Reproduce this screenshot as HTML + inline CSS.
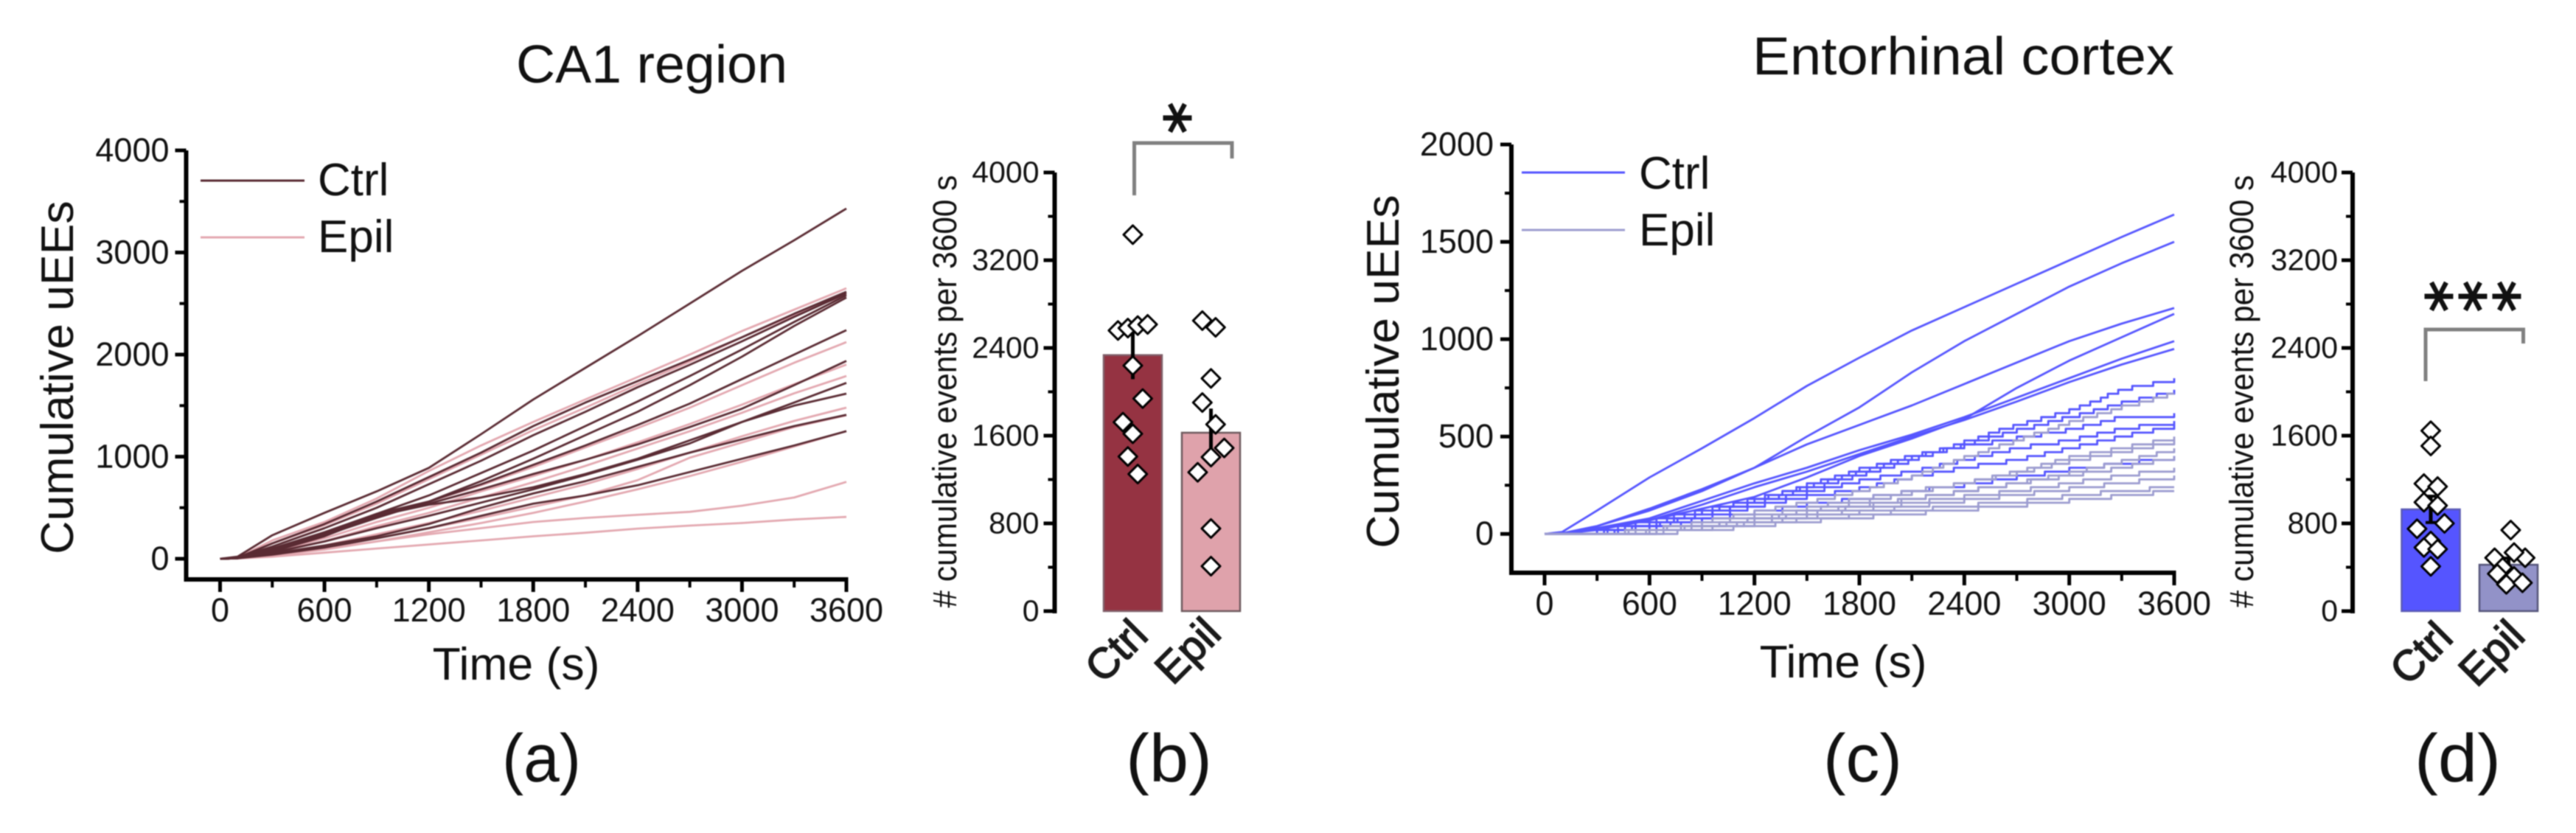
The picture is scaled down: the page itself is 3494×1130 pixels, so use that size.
<!DOCTYPE html>
<html lang="en">
<head>
<meta charset="utf-8">
<title>Cumulative uEEs</title>
<style>
html,body{margin:0;padding:0;background:#fff;}
body{width:3494px;height:1130px;overflow:hidden;}
svg{display:block;filter:blur(0.7px);}
text{font-family:"Liberation Sans",sans-serif;fill:#111;}
</style>
</head>
<body>
<svg id="fig" xmlns="http://www.w3.org/2000/svg" width="3494" height="1130" viewBox="0 0 3494 1130">
  <rect x="0" y="0" width="3494" height="1130" fill="#ffffff"/>
  <text x="700" y="112" font-size="72" textLength="368" lengthAdjust="spacingAndGlyphs">CA1 region</text>
  <text x="2377" y="101" font-size="72" textLength="572" lengthAdjust="spacingAndGlyphs">Entorhinal cortex</text>

  <text transform="translate(99,512) rotate(-90)" text-anchor="middle" font-size="62.5">Cumulative uEEs</text>
  <text x="700" y="922" text-anchor="middle" font-size="62.5">Time (s)</text>
  <text transform="translate(1897,504) rotate(-90)" text-anchor="middle" font-size="62.5">Cumulative uEEs</text>
  <text x="2500" y="919" text-anchor="middle" font-size="62.5">Time (s)</text>

  <text transform="translate(1297,531) rotate(-90)" text-anchor="middle" font-size="45" textLength="587" lengthAdjust="spacingAndGlyphs"># cumulative events per 3600 s</text>
  <text transform="translate(3056,531) rotate(-90)" text-anchor="middle" font-size="45" textLength="587" lengthAdjust="spacingAndGlyphs"># cumulative events per 3600 s</text>

  <g>
    <line x1="272" y1="245" x2="413" y2="245" stroke="#5a2b33" stroke-width="3"/>
    <text x="431" y="265" font-size="62">Ctrl</text>
    <line x1="272" y1="322" x2="413" y2="322" stroke="#e3a8b0" stroke-width="3"/>
    <text x="431" y="342" font-size="62">Epil</text>
  </g>
  <g>
    <line x1="2064" y1="234" x2="2204" y2="234" stroke="#5555ff" stroke-width="3"/>
    <text x="2223" y="256" font-size="62">Ctrl</text>
    <line x1="2064" y1="312" x2="2204" y2="312" stroke="#9c9cd0" stroke-width="3"/>
    <text x="2223" y="333" font-size="62">Epil</text>
  </g>

  <text x="681" y="1060" font-size="92" textLength="107" lengthAdjust="spacingAndGlyphs">(a)</text>
  <text x="1527" y="1060" font-size="92" textLength="117" lengthAdjust="spacingAndGlyphs">(b)</text>
  <text x="2473" y="1060" font-size="92" textLength="107" lengthAdjust="spacingAndGlyphs">(c)</text>
  <text x="3275" y="1060" font-size="92" textLength="117" lengthAdjust="spacingAndGlyphs">(d)</text>

  <path d="M1538.5 265V194H1671V215" fill="none" stroke="#808080" stroke-width="5"/>
  <text transform="translate(1600,160) rotate(90)" text-anchor="middle" font-size="84" font-weight="bold" y="46" style="font-family:'DejaVu Sans',sans-serif">*</text>
  <path d="M3290 517V447H3422.5V466" fill="none" stroke="#808080" stroke-width="5"/>
  <text transform="translate(3311,402) rotate(90)" text-anchor="middle" font-size="84" font-weight="bold" y="46" style="font-family:'DejaVu Sans',sans-serif">*</text>
  <text transform="translate(3357,402) rotate(90)" text-anchor="middle" font-size="84" font-weight="bold" y="46" style="font-family:'DejaVu Sans',sans-serif">*</text>
  <text transform="translate(3403,402) rotate(90)" text-anchor="middle" font-size="84" font-weight="bold" y="46" style="font-family:'DejaVu Sans',sans-serif">*</text>

  <g id="marks"></g>
</svg>
<script>
// ---------- shared time samples (s) ----------
var traceTimes = [0,100,300,600,900,1200,1500,1800,2100,2400,2700,3000,3300,3600];
var timeTicks = [0,600,1200,1800,2400,3000,3600];
var timeMinorTicks = [300,900,1500,2100,2700,3300];

// ---------- panel (a) CA1 traces ----------
var caYTicks = [0,1000,2000,3000,4000];
var caYMinorTicks = [500,1500,2500,3500];
var caCtrlTraces = [
  [0,20,230,450,660,890,1220,1560,1870,2180,2500,2820,3120,3430],
  [0,10,150,340,560,800,1040,1300,1530,1740,1950,2170,2400,2615],
  [0,10,120,300,500,730,960,1210,1440,1680,1900,2130,2370,2600],
  [0,5,100,260,440,620,840,1060,1300,1540,1790,2050,2320,2581],
  [0,5,80,230,400,560,760,980,1210,1440,1700,1980,2280,2559],
  [0,5,90,250,440,560,730,920,1110,1310,1520,1760,2000,2239],
  [0,5,70,220,420,540,680,830,970,1120,1290,1470,1700,1938],
  [0,5,60,170,300,420,550,680,820,970,1130,1340,1530,1723],
  [0,5,80,230,420,530,600,700,830,980,1160,1340,1500,1617],
  [0,5,50,130,220,340,500,640,760,900,1040,1170,1300,1410],
  [0,5,40,110,200,300,420,540,620,720,850,980,1110,1250]
];
var caEpilTraces = [
  [0,10,180,360,590,860,1110,1340,1560,1780,2000,2230,2440,2649],
  [0,10,150,330,540,780,1020,1260,1480,1710,1930,2170,2390,2588],
  [0,5,90,240,400,560,720,900,1090,1280,1480,1700,1920,2122],
  [0,5,70,200,360,500,660,810,970,1140,1320,1510,1710,1902],
  [0,5,60,170,320,450,600,750,910,1080,1250,1430,1620,1790],
  [0,5,50,130,240,350,470,600,730,880,1040,1200,1350,1480],
  [0,5,40,110,200,300,400,510,620,770,990,1140,1290,1405],
  [0,5,30,90,170,260,350,450,560,680,810,950,1100,1250],
  [0,5,30,100,170,240,300,360,400,430,460,520,600,753],
  [0,3,20,60,100,140,180,220,255,295,325,350,385,410]
];

// ---------- panel (c) entorhinal traces ----------
var ecYTicks = [0,500,1000,1500,2000];
var ecYMinorTicks = [250,750,1250,1750];
var ecCtrlTraces = [
  [0,10,120,290,440,595,760,905,1045,1165,1285,1405,1525,1640],
  [0,3,40,120,220,340,500,650,830,990,1130,1270,1390,1500],
  [0,3,40,130,230,340,460,560,660,770,880,990,1080,1160],
  [0,2,20,70,130,190,290,400,490,590,750,890,1010,1130],
  [0,3,30,80,170,260,340,430,510,600,700,800,900,990],
  [0,2,25,70,150,240,320,410,500,585,680,780,870,950],
  [0,2,20,60,120,190,250,330,400,480,570,640,750,800],
  [0,2,15,55,110,170,240,310,390,470,540,610,680,740],
  [0,2,20,75,130,180,260,340,410,460,500,545,610,620],
  [0,2,15,50,110,170,220,280,330,390,450,490,550,580],
  [0,1,10,40,90,150,200,240,300,350,390,450,510,560],
  [0,1,10,35,80,120,160,190,230,260,300,340,370,400]
];
var ecEpilTraces = [
  [0,1,10,30,70,120,170,230,300,400,490,580,660,730],
  [0,1,8,30,60,100,140,190,230,270,330,400,450,500],
  [0,1,8,25,50,85,130,170,220,270,320,380,430,480],
  [0,1,5,20,45,80,115,150,190,230,270,320,380,440],
  [0,1,6,22,50,85,120,155,190,230,270,310,350,400],
  [0,1,5,18,40,70,100,130,170,200,230,270,310,340],
  [0,1,5,18,40,65,95,120,150,180,210,240,270,300],
  [0,1,4,15,35,60,85,105,130,155,175,205,230,250],
  [0,1,3,12,28,50,75,95,115,135,155,180,205,230]
];

// ---------- bar panels (b) and (d) ----------
var barCategories = ["Ctrl","Epil"];
var barYTicks = [0,800,1600,2400,3200,4000];
var barYMinorTicks = [400,1200,2000,2800,3600];

var bMeans = [2335,1627];
var bErrors = [220,220];
var bCtrlPoints = [3433,2559,2581,2604,2615,2239,1938,1723,1617,1410,1250];
var bCtrlSwarm = [0,-3,-1,1,3,0,2,-2,0,-1,1];
var bEpilPoints = [2649,2588,2122,1902,1703,1488,1405,1266,753,410];
var bEpilSwarm = [-1.3,0.7,0,-1.3,0.7,2,0,-2,0,0];

var dMeans = [928,423];
var dErrors = [120,60];
var dCtrlPoints = [1645,1506,1163,1136,993,963,800,751,639,580,565,408];
var dCtrlSwarm = [0,0,-1,1,-1,1,2,-2,0,-1,1,0];
var dEpilPoints = [739,486,486,534,399,341,316,244,258];
var dEpilSwarm = [0.33,-2.1,2.5,0.83,-0.89,-1.7,0.83,-0.33,2.1];

// ---------- drawing ----------
var NS = "http://www.w3.org/2000/svg";
var root = document.getElementById("marks");

function make(tag, attrs, parent) {
  var el = document.createElementNS(NS, tag);
  for (var k in attrs) el.setAttribute(k, attrs[k]);
  
  parent.appendChild(el);
  return el;
}
function linearScale(d0, d1, r0, r1) {
  return function (v) { return r0 + (v - d0) / (d1 - d0) * (r1 - r0); };
}
function group(name) {
  var g = make("g", {}, root);
  
  return g;
}
function drawYAxis(g, sy, ticks, minor, axisX, top, bottom, labelGap, fontSize) {
  var ax = make("line", {x1:axisX,y1:top,x2:axisX,y2:bottom,stroke:"#000","stroke-width":6}, g);
  
  ticks.forEach(function (t) {
    var tk = make("line", {x1:axisX-15,y1:sy(t),x2:axisX,y2:sy(t),stroke:"#000","stroke-width":5}, g);
    
    var lb = make("text", {x:axisX-labelGap,y:sy(t)+fontSize*0.33,"text-anchor":"end","font-size":fontSize}, g);
    
    lb.textContent = t;
  });
  minor.forEach(function (t) {
    var tk = make("line", {x1:axisX-9,y1:sy(t),x2:axisX,y2:sy(t),stroke:"#000","stroke-width":4}, g);
    
  });
}
function drawXAxis(g, sx, axisY, left, labelY) {
  var ax = make("line", {x1:left,y1:axisY,x2:sx(3600)+2.5,y2:axisY,stroke:"#000","stroke-width":6}, g);
  
  timeTicks.forEach(function (t) {
    var tk = make("line", {x1:sx(t),y1:axisY,x2:sx(t),y2:axisY+17,stroke:"#000","stroke-width":5}, g);
    
    var lb = make("text", {x:sx(t),y:labelY,"text-anchor":"middle","font-size":45}, g);
    
    lb.textContent = t;
  });
  timeMinorTicks.forEach(function (t) {
    var tk = make("line", {x1:sx(t),y1:axisY,x2:sx(t),y2:axisY+11,stroke:"#000","stroke-width":4}, g);
    
  });
}
function valueAt(vals, t) {
  for (var i = 1; i < traceTimes.length; i++) {
    if (t <= traceTimes[i]) {
      var f = (t - traceTimes[i-1]) / (traceTimes[i] - traceTimes[i-1]);
      return vals[i-1] + f * (vals[i] - vals[i-1]);
    }
  }
  return vals[vals.length-1];
}
// Smooth traces are polylines; low-count traces are drawn as staircases because the counts are discrete events.
function drawTraces(g, sx, sy, traces, color, stepBelow, stepSize) {
  traces.forEach(function (vals) {
    var d;
    if (stepBelow && vals[vals.length-1] <= stepBelow) {
      d = "M" + sx(0).toFixed(1) + " " + sy(0).toFixed(1);
      var last = 0;
      for (var t = 20; t <= 3600; t += 20) {
        var q = Math.floor(valueAt(vals, t) / stepSize) * stepSize;
        d += "H" + sx(t).toFixed(1);
        if (q !== last) { d += "V" + sy(q).toFixed(1); last = q; }
      }
    } else {
      d = "M" + vals.map(function (v, i) { return sx(traceTimes[i]).toFixed(1) + " " + sy(v).toFixed(1); }).join("L");
    }
    var pl = make("path", {d:d,fill:"none",stroke:color,"stroke-width":2.8,"stroke-linejoin":"round"}, g);
    
  });
}
function drawBars(g, sy, centers, means, errors, fills, edges, caps, labelX, labelY) {
  means.forEach(function (m, i) {
    var rc = make("rect", {x:centers[i]-39.5,y:sy(m),width:79,height:sy(0)-sy(m),fill:fills[i],stroke:edges[i],"stroke-width":2.5}, g);
    
  });
  means.forEach(function (m, i) {
    var er = make("line", {x1:centers[i],y1:sy(m+errors[i]),x2:centers[i],y2:sy(m-errors[i]),stroke:"#000","stroke-width":5}, g);
    
    if (caps) {
      var c1 = make("line", {x1:centers[i]-7,y1:sy(m+errors[i]),x2:centers[i]+7,y2:sy(m+errors[i]),stroke:"#000","stroke-width":4}, g);
      
      var c2 = make("line", {x1:centers[i]-7,y1:sy(m-errors[i]),x2:centers[i]+7,y2:sy(m-errors[i]),stroke:"#000","stroke-width":4}, g);
      
    }
    var lb = make("text", {transform:"translate("+labelX[i]+","+labelY+") rotate(-45)","text-anchor":"middle","font-size":58,y:21,style:"fill:#1a1a1a;stroke:#1a1a1a;stroke-width:1.6px"}, g);
    
    lb.textContent = barCategories[i];
  });
}
function drawPoints(g, sy, cx, points, swarm, unit) {
  points.forEach(function (v, i) {
    var x = cx + swarm[i] * unit, y = sy(v), r = 12.5;
    var dm = make("polygon", {points:[x,y-r,x+r,y,x,y+r,x-r,y].join(" "),fill:"#fff",stroke:"#000","stroke-width":3,"stroke-linejoin":"round"}, g);
    
  });
}

// panel a
(function () {
  var g = group("panel-a-ca1-traces");
  var sx = linearScale(0, 3600, 298.5, 1148);
  var sy = linearScale(0, 4000, 758, 204);
  drawTraces(g, sx, sy, caEpilTraces, "#e3a8b0");
  drawTraces(g, sx, sy, caCtrlTraces, "#5a2b33");
  drawYAxis(g, sy, caYTicks, caYMinorTicks, 252.5, 204, 789, 23, 45);
  drawXAxis(g, sx, 786, 250, 843);
})();
// panel c
(function () {
  var g = group("panel-c-entorhinal-traces");
  var sx = linearScale(0, 3600, 2095, 2949);
  var sy = linearScale(0, 2000, 724.3, 196);
  drawTraces(g, sx, sy, ecCtrlTraces, "#5555ff", 800, 20);
  drawTraces(g, sx, sy, ecEpilTraces, "#9c9cd0", 800, 20);
  drawYAxis(g, sy, ecYTicks, ecYMinorTicks, 2050, 196, 780, 24, 45);
  drawXAxis(g, sx, 777, 2047, 834);
})();
// panel b
(function () {
  var g = group("panel-b-ca1-bars");
  var sy = linearScale(0, 4000, 829, 234);
  var centers = [1536.5, 1642.5];
  drawBars(g, sy, centers, bMeans, bErrors, ["#953342","#dfa2ab"], ["#80606a","#6e5a5e"], false, [1513,1610], 882);
  drawPoints(g, sy, centers[0], bCtrlPoints, bCtrlSwarm, 6.7);
  drawPoints(g, sy, centers[1], bEpilPoints, bEpilSwarm, 9);
  drawYAxis(g, sy, barYTicks, barYMinorTicks, 1430.5, 234, 832, 21, 41);
})();
// panel d
(function () {
  var g = group("panel-d-entorhinal-bars");
  var sy = linearScale(0, 4000, 829, 234);
  var centers = [3297, 3402.5];
  drawBars(g, sy, centers, dMeans, dErrors, ["#5555ff","#9292c8"], ["#5a5ab4","#55557a"], true, [3283,3378.5], 885);
  drawPoints(g, sy, centers[0], dCtrlPoints, dCtrlSwarm, 9.3);
  drawPoints(g, sy, centers[1], dEpilPoints, dEpilSwarm, 9);
  drawYAxis(g, sy, barYTicks, barYMinorTicks, 3191, 234, 832, 20, 41);
})();
</script>
</body>
</html>
